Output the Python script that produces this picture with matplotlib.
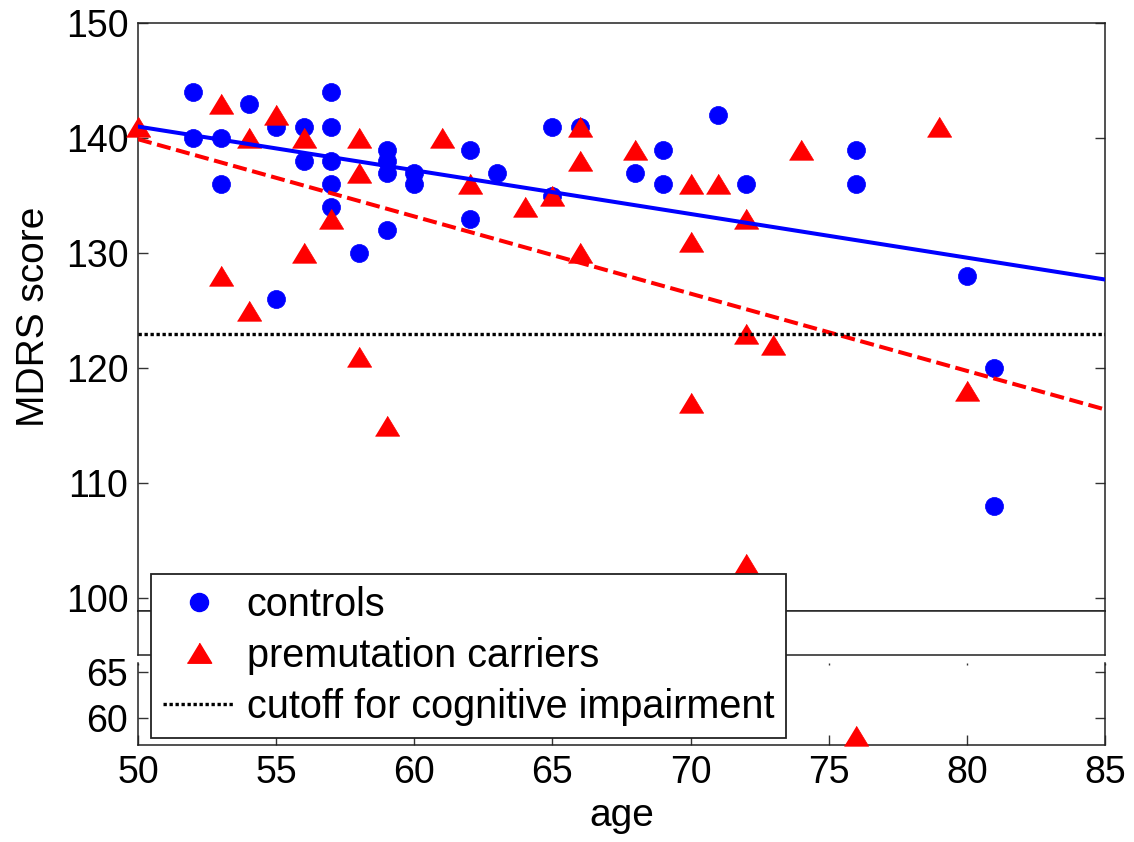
import numpy as np
import matplotlib
matplotlib.use('Agg')
import matplotlib.pyplot as plt
from matplotlib.lines import Line2D

plt.rcParams['font.family'] = ['Liberation Sans', 'DejaVu Sans']

# controls (blue circles)
controls_age = [52, 52, 53, 53, 54, 55, 55, 56, 56, 57, 57, 57, 57, 57, 58, 59, 59, 59, 59,
                60, 60, 62, 62, 63, 65, 65, 66, 68, 69, 69, 71, 72, 76, 76, 80, 81, 81]
controls_score = [144, 140, 140, 136, 143, 141, 126, 141, 138, 144, 141, 138, 136, 134, 130, 139, 138, 137, 132,
                  137, 136, 139, 133, 137, 141, 135, 141, 137, 139, 136, 142, 136, 139, 136, 128, 120, 108]

# premutation carriers (red triangles)
carriers_age = [50, 53, 53, 54, 54, 55, 56, 56, 57, 58, 58, 58, 59, 61, 62, 64, 65,
                66, 66, 66, 68, 70, 70, 70, 71, 72, 72, 72, 73, 74, 79, 80, 76]
carriers_score = [141, 143, 128, 140, 125, 142, 140, 130, 133, 140, 137, 121, 115, 140, 136, 134, 135,
                  141, 138, 130, 139, 136, 131, 117, 136, 133, 123, 103, 122, 139, 141, 118, 58]

# regression lines (value at age 50 and 85)
fit_age = [50, 85]
controls_fit = [141.0, 127.7]
carriers_fit = [139.9, 116.4]

cutoff = 123

xticks = [50, 55, 60, 65, 70, 75, 80, 85]
upper_yticks = [100, 110, 120, 130, 140, 150]
lower_yticks = [60, 65]

tri = [(-1, -0.8), (1, -0.8), (0, 0.85)]

fig = plt.figure(figsize=(11.34, 8.42), dpi=100)

ax1 = fig.add_axes([0.1217, 0.2743, 0.8527, 0.6983])
axb = fig.add_axes([0.1217, 0.2221, 0.8527, 0.0523])
ax2 = fig.add_axes([0.1217, 0.1152, 0.8527, 0.0974])

ca = np.array(controls_age)
cs = np.array(controls_score)
pa = np.array(carriers_age)
ps = np.array(carriers_score)

# upper part
up_c = cs > 95
up_p = ps > 95
ax1.plot(ca[up_c], cs[up_c], 'o', color='#0000ff', ms=13, mec='#0000ff', mew=0.5, clip_on=False, zorder=3)
ax1.plot(pa[up_p], ps[up_p], linestyle='none', marker=tri, color='#ff0000', ms=17.5, mec='#ff0000', mew=0.5,
         clip_on=False, zorder=4)
ax1.plot(fit_age, controls_fit, '-', color='#0000ff', lw=2.9, zorder=5)
ax1.plot(fit_age, carriers_fit, color='#ff0000', lw=2.9, linestyle=(0, (3.5, 1.4)), zorder=5)
ax1.axhline(cutoff, color='k', lw=2.4, linestyle=(0, (1, 0.8)), zorder=5)

ax1.set_xlim(50, 85)
ax1.set_ylim(98.87, 150)
ax1.set_yticks(upper_yticks)
ax1.set_xticks([])
ax1.tick_params(axis='y', direction='in', left=True, right=True, length=7, width=1,
                labelsize=27, pad=7, color='#333333')
ax1.set_ylabel('MDRS score', fontsize=28, labelpad=10)

# break box
axb.set_xticks([])
axb.set_yticks([])

# lower part
lo_p = ps < 70
ax2.plot(pa[lo_p], ps[lo_p], linestyle='none', marker=tri, color='#ff0000', ms=17.5, mec='#ff0000', mew=0.5,
         clip_on=False, zorder=4)
ax2.set_xlim(50, 85)
ax2.set_ylim(57, 66)
ax2.set_yticks(lower_yticks)
ax2.set_xticks(xticks)
ax2.spines['top'].set_visible(False)
ax2.tick_params(axis='y', direction='in', left=True, right=True, length=7, width=1,
                labelsize=27, pad=7, color='#333333')
ax2.tick_params(axis='x', direction='in', bottom=True, length=7, width=1,
                labelsize=27, pad=7, color='#333333')
ax2.tick_params(axis='x', which='major', top=True)
for t in ax2.xaxis.get_major_ticks():
    t.tick2line.set_markersize(1.5)
ax2.set_xlabel('age', fontsize=28, labelpad=5)

for ax in (ax1, axb, ax2):
    for sp in ax.spines.values():
        sp.set_linewidth(1.1)
        sp.set_color('#222222')

handles = [
    Line2D([], [], linestyle='none', marker='o', color='#0000ff', ms=13),
    Line2D([], [], linestyle='none', marker=tri, color='#ff0000', ms=17.5),
    Line2D([], [], color='k', lw=2.4, linestyle=(0, (1, 0.8))),
]
labels = ['controls', 'premutation carriers', 'cutoff for cognitive impairment']
leg = fig.legend(handles, labels, loc='upper left', bbox_to_anchor=(0.1332, 0.3183),
                 borderaxespad=0, fontsize=28.5, frameon=True, fancybox=False,
                 edgecolor='#222222', framealpha=1, handlelength=1.8, handletextpad=0.32,
                 borderpad=0.3, labelspacing=0.33)
leg.get_frame().set_linewidth(1.3)

fig.savefig('out.png', dpi=100)
